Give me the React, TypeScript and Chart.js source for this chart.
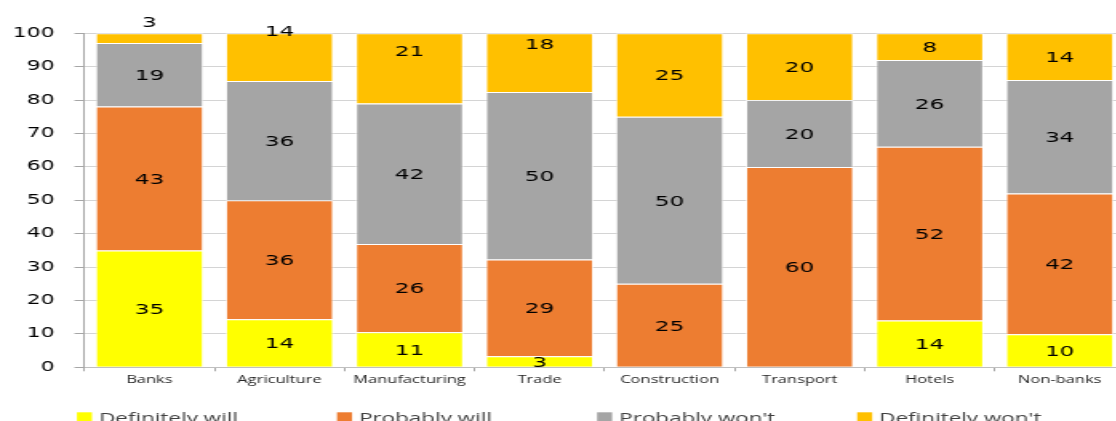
import React, { useEffect, useRef } from 'react';
import { Chart, registerables } from 'chart.js';

Chart.register(...registerables);

const categories = ['Banks', 'Agriculture', 'Manufacturing', 'Trade', 'Construction', 'Transport', 'Hotels', 'Non-banks'];
const definitelyWill = [35, 14.4, 10.5, 3.3, 0, 0, 14, 9.9];
const probablyWill = [43.1, 35.6, 26.4, 29, 25, 60, 52, 42.1];
const probablyWont = [19, 35.7, 42.1, 50.1, 50, 20, 26, 34];
const definitelyWont = [2.9, 14.3, 21, 17.6, 25, 20, 8, 14];
const seriesNames = ['Definitely will', 'Probably will', "Probably won't", "Definitely won't"];
const seriesColors = ['#FFFF00', '#ED7D31', '#A5A5A5', '#FFC000'];
const yTickValues = [0, 10, 20, 30, 40, 50, 60, 70, 80, 90, 100];

const STRETCH = 1.6;
const CANVAS_W = 703;
const CANVAS_H = 421;
const labelNudges: Record<string, number> = { '3-0': -16, '3-1': -26, '3-2': -18, '3-3': -19 };

const segmentLabels = {
  id: 'segmentLabels',
  afterDatasetsDraw(chart: any) {
    const ctx = chart.ctx;
    ctx.save();
    ctx.font = '14.5px "DejaVu Sans"';
    ctx.fillStyle = '#000000';
    ctx.textAlign = 'center';
    ctx.textBaseline = 'middle';
    chart.data.datasets.forEach((ds: any, di: number) => {
      const meta = chart.getDatasetMeta(di);
      meta.data.forEach((el: any, i: number) => {
        const v = ds.data[i];
        if (!v) return;
        const p = el.getProps(['x', 'y', 'base'], true);
        const cy = (p.y + p.base) / 2 + 1.5 + (labelNudges[`${di}-${i}`] || 0);
        ctx.fillText(String(Math.round(v)), p.x, cy);
      });
    });
    ctx.restore();
  },
};

const bottomLegend = {
  id: 'bottomLegend',
  afterDraw(chart: any) {
    const ctx = chart.ctx;
    const area = chart.chartArea;
    const step = (area.right - area.left) / 4;
    ctx.save();
    ctx.font = '14px "Open Sans"';
    ctx.textAlign = 'left';
    ctx.textBaseline = 'alphabetic';
    chart.data.datasets.forEach((ds: any, i: number) => {
      const x = area.left - 4.7 + i * step;
      ctx.fillStyle = ds.backgroundColor;
      ctx.fillRect(x, chart.height - 8.7, 9.4, 9.6);
      ctx.fillStyle = '#404040';
      ctx.fillText(ds.label, x + 9.4 + 4.4, chart.height + 1.8);
    });
    ctx.restore();
  },
};

export default function App() {
  const ref = useRef<HTMLCanvasElement>(null);

  useEffect(() => {
    if (!ref.current) return;
    const seriesValues = [definitelyWill, probablyWill, probablyWont, definitelyWont];
    const chart = new Chart(ref.current, {
      type: 'bar',
      data: {
        labels: categories,
        datasets: seriesValues.map((vals, i) => ({
          label: seriesNames[i],
          data: vals,
          backgroundColor: seriesColors[i],
          borderColor: 'rgba(255,255,255,0.7)',
          borderWidth: 1,
          barPercentage: 0.831,
          categoryPercentage: 1,
        })),
      },
      options: {
        responsive: false,
        maintainAspectRatio: false,
        animation: false,
        layout: { padding: { top: 33.3, bottom: 0, left: 0, right: 0 } },
        plugins: {
          legend: { display: false },
          tooltip: { enabled: false },
        },
        scales: {
          x: {
            stacked: true,
            afterFit: (s: any) => { s.height = 53.7; },
            border: { display: true, color: '#bfbfbf', width: 1 },
            grid: {
              offset: true,
              drawOnChartArea: false,
              drawTicks: true,
              tickLength: 4,
              tickColor: '#a6a6a6',
            },
            ticks: {
              font: { family: '"Open Sans"', size: 10.3 },
              color: '#262626',
              padding: 3,
              maxRotation: 0,
              autoSkip: false,
            },
          },
          y: {
            stacked: true,
            min: 0,
            max: 100,
            afterFit: (s: any) => { s.width = 52.8; },
            afterBuildTicks: (s: any) => { s.ticks = yTickValues.map((v) => ({ value: v })); },
            border: { display: true, color: '#a6a6a6', width: 1 },
            grid: {
              color: '#d4d4d4',
              tickLength: 6.25,
              tickColor: '#a6a6a6',
            },
            ticks: {
              font: { family: '"DejaVu Sans"', size: 13.6 },
              color: '#000000',
              padding: 12.5,
            },
          },
        },
      },
      plugins: [segmentLabels, bottomLegend],
    });
    return () => chart.destroy();
  }, []);

  return (
    <div
      style={{
        position: 'fixed',
        left: 0,
        top: 0,
        width: 1116,
        height: 421,
        overflow: 'hidden',
        background: '#ffffff',
      }}
    >
      <canvas
        ref={ref}
        width={CANVAS_W}
        height={CANVAS_H}
        style={{
          display: 'block',
          width: CANVAS_W,
          height: CANVAS_H,
          transform: `scaleX(${STRETCH})`,
          transformOrigin: '0 0',
        }}
      />
    </div>
  );
}
